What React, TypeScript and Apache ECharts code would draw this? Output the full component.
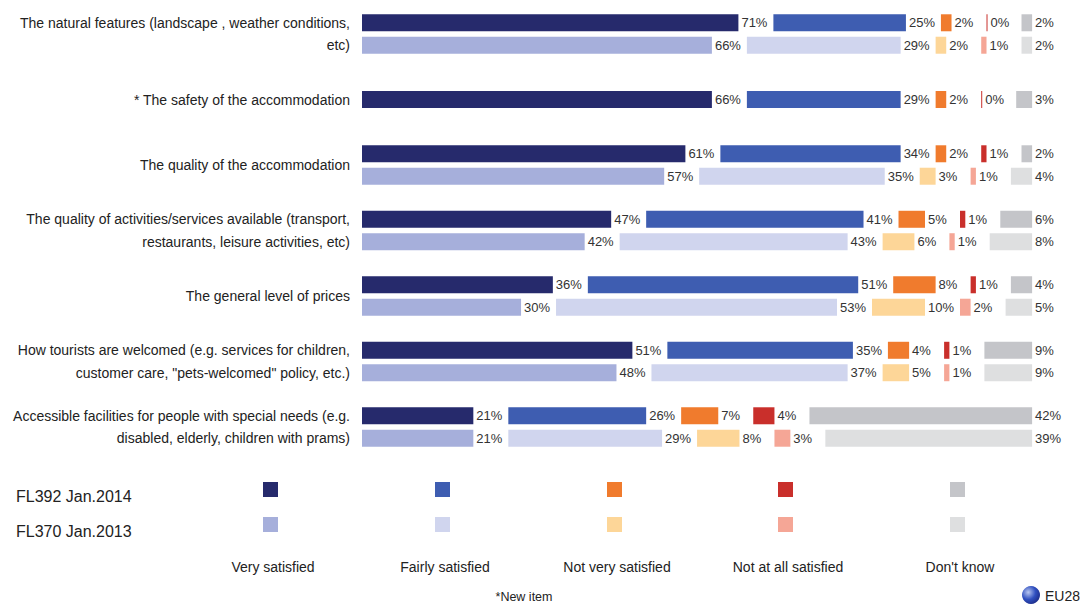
import React, { useEffect, useRef } from "react";
import * as echarts from "echarts";

const categories = [
  "The natural features (landscape , weather conditions,\netc)",
  "* The safety of the accommodation",
  "The quality of the accommodation",
  "The quality of activities/services available (transport,\nrestaurants, leisure activities, etc)",
  "The general level of prices",
  "How tourists are welcomed (e.g. services for children,\ncustomer care, \"pets-welcomed\" policy, etc.)",
  "Accessible facilities for people with special needs (e.g.\ndisabled, elderly, children with prams)",
];
const answers = ["Very satisfied", "Fairly satisfied", "Not very satisfied", "Not at all satisfied", "Don't know"];
const waves = ["FL392 Jan.2014", "FL370 Jan.2013"];

// FL392 Jan.2014
const very2014 = [71, 66, 61, 47, 36, 51, 21];
const fairly2014 = [25, 29, 34, 41, 51, 35, 26];
const notVery2014 = [2, 2, 2, 5, 8, 4, 7];
const notAtAll2014 = [0, 0, 1, 1, 1, 1, 4];
const dontKnow2014 = [2, 3, 2, 6, 4, 9, 42];
// FL370 Jan.2013 (the safety item is new, no value)
const very2013 = [66, null, 57, 42, 30, 48, 21];
const fairly2013 = [29, null, 35, 43, 53, 37, 29];
const notVery2013 = [2, null, 3, 6, 10, 5, 8];
const notAtAll2013 = [1, null, 1, 1, 2, 1, 3];
const dontKnow2013 = [2, null, 4, 8, 5, 9, 39];

const colors2014 = ["#262a6c", "#3e5db1", "#f07b2d", "#c92f2b", "#c4c5c9"];
const colors2013 = ["#a6afdb", "#d0d5ee", "#fdd698", "#f5a696", "#dedfe0"];

const NEW_ITEM = 1;
const GAP = 6.6;
const FONT = "'Liberation Sans', Arial, sans-serif";
const BAR_W = 17;

function buildStack(
  values: (number | null)[][],
  colors: string[],
  stack: string,
  yAxisIndex: number,
  keep: (i: number) => boolean
) {
  const out: any[] = [];
  values.forEach((arr, k) => {
    const data = arr.map((v, i) => (keep(i) && v != null ? v : "-"));
    out.push({
      type: "bar",
      name: answers[k],
      stack,
      yAxisIndex,
      barWidth: BAR_W,
      barGap: "32%",
      barMinHeight: k === 3 ? 1 : 0,
      data,
      itemStyle: { color: colors[k] },
      label: {
        show: true,
        position: "right",
        distance: 3,
        formatter: "{c}%",
        color: "#333",
        fontSize: 13,
        fontFamily: FONT,
      },
    });
    if (k < values.length - 1) {
      out.push({
        type: "bar",
        stack,
        yAxisIndex,
        barWidth: BAR_W,
        barGap: "32%",
        silent: true,
        data: data.map((d) => (d === "-" ? "-" : GAP)),
        itemStyle: { color: "transparent" },
        label: { show: false },
      });
    }
  });
  return out;
}

export default function App() {
  const ref = useRef<HTMLDivElement>(null);
  useEffect(() => {
    document.body.style.margin = "0";
    const chart = echarts.init(ref.current!, null, { renderer: "svg" });
    const v2014 = [very2014, fairly2014, notVery2014, notAtAll2014, dontKnow2014];
    const v2013 = [very2013, fairly2013, notVery2013, notAtAll2013, dontKnow2013];
    const series = [
      ...buildStack(v2014, colors2014, "y2014", 0, (i) => i !== NEW_ITEM),
      ...buildStack(v2013, colors2013, "y2013", 0, (i) => i !== NEW_ITEM),
      ...buildStack(v2014, colors2014, "new2014", 1, (i) => i === NEW_ITEM),
    ];

    const colX = [270, 442, 614, 785, 957];
    const graphic: any[] = [];
    waves.forEach((w, r) => {
      graphic.push({
        type: "text",
        x: 16,
        y: 496 + r * 35,
        style: { text: w, fontSize: 16, fontFamily: FONT, fill: "#222", verticalAlign: "middle" },
      });
      const cols = r === 0 ? colors2014 : colors2013;
      cols.forEach((c, k) => {
        graphic.push({
          type: "rect",
          shape: { x: colX[k] - 7, y: 482 + r * 35, width: 15, height: 15 },
          style: { fill: c },
        });
      });
    });
    answers.forEach((a, k) => {
      graphic.push({
        type: "text",
        x: colX[k] + 3,
        y: 567,
        style: {
          text: a,
          fontSize: 14,
          fontFamily: FONT,
          fill: "#222",
          align: "center",
          verticalAlign: "middle",
        },
      });
    });
    graphic.push({
      type: "text",
      x: 524,
      y: 597,
      style: { text: "*New item", fontSize: 12.5, fontFamily: FONT, fill: "#222", align: "center", verticalAlign: "middle" },
    });
    graphic.push({
      type: "circle",
      shape: { cx: 1031, cy: 595, r: 9 },
      style: {
        fill: new echarts.graphic.RadialGradient(0.35, 0.35, 0.8, [
          { offset: 0, color: "#b8c6f0" },
          { offset: 0.5, color: "#3050c0" },
          { offset: 1, color: "#18237a" },
        ]),
      },
    });
    graphic.push({
      type: "text",
      x: 1045,
      y: 596,
      style: { text: "EU28", fontSize: 14, fontFamily: FONT, fill: "#222", verticalAlign: "middle" },
    });

    chart.setOption({
      animation: false,
      grid: {
        left: 362,
        top: 1.25,
        width: 721,
        height: 458.5,
        containLabel: false,
        outerBoundsMode: "none",
      },
      xAxis: { type: "value", min: 0, max: 136, show: false },
      yAxis: [
        {
          type: "category",
          inverse: true,
          data: categories,
          axisLine: { show: false },
          axisTick: { show: false },
          axisLabel: {
            margin: 12,
            fontSize: 14,
            lineHeight: 22.5,
            color: "#222",
            fontFamily: FONT,
            align: "right",
          },
        },
        { type: "category", inverse: true, data: categories, show: false },
      ],
      series,
      graphic,
    });
    return () => chart.dispose();
  }, []);
  return <div ref={ref} style={{ width: 1088, height: 605 }} />;
}
